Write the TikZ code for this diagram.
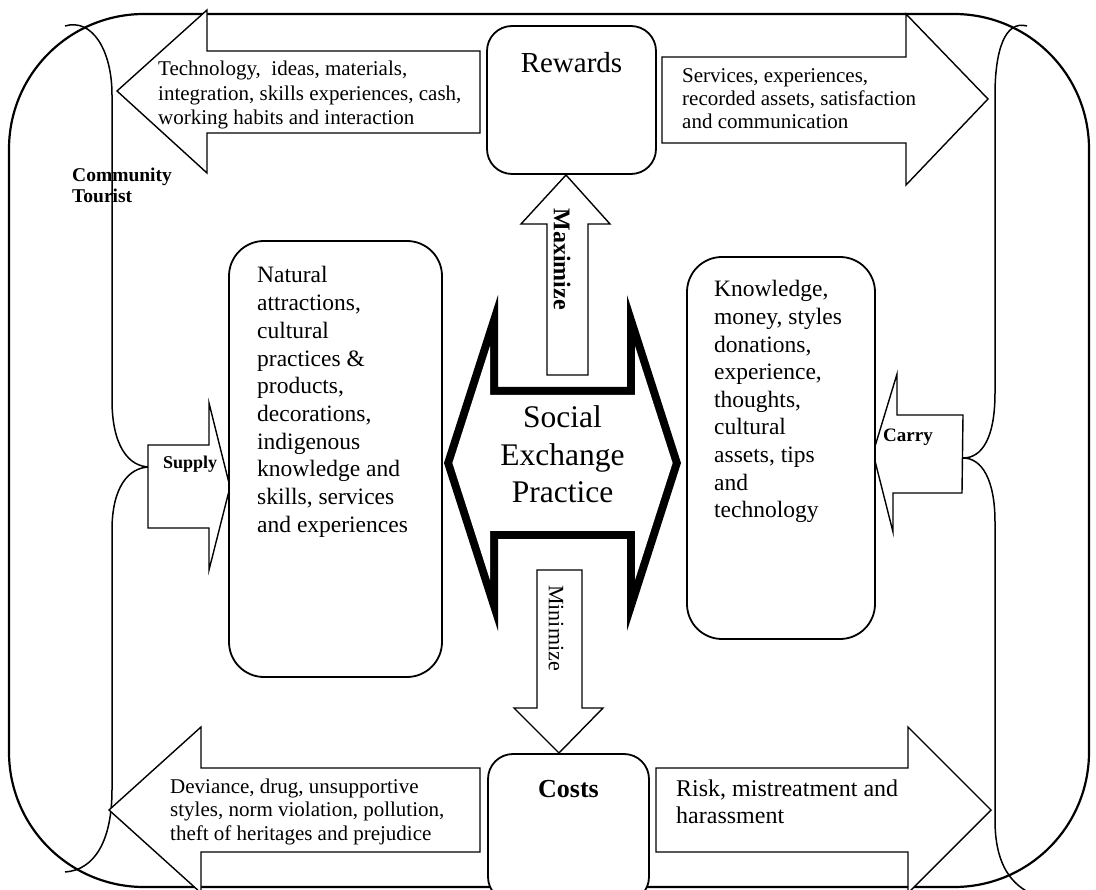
\documentclass[tikz,border=0pt]{standalone}
\usepackage{fontspec}
\setmainfont{Liberation Serif}
\newcommand\mylines[2]{\vtop{\baselineskip=#1pt\lineskiplimit=-100pt\lineskip=0pt\relax #2}}
\newcommand\ctrline[1]{\hbox to 0pt{\hss #1\hss}}
\begin{document}
\begin{tikzpicture}[x=1pt,y=-1pt, line join=miter,
  frame/.style={draw, line width=2.2pt},
  box/.style={draw, line width=1.8pt, rounded corners=#1, fill=white, inner sep=0pt},
  box/.default=25pt,
  blk/.style={draw, line width=1.4pt, fill=white},
  brace/.style={draw, line width=1.5pt},
  txt/.style={inner sep=0pt, anchor=base west}
]
\useasboundingbox (0,0) rectangle (1096,890);
\clip (0,0) rectangle (1096,890);

% outer frame
\draw[frame, rounded corners=135pt] (9,14) rectangle (1089,887);

% braces
\draw[brace] (65,26) .. controls (92,18) and (112,50) .. (112,95) -- (112,400)
  .. controls (112,445) and (128,467) .. (150,467)
  .. controls (128,467) and (112,488) .. (112,530) -- (112,790)
  .. controls (112,840) and (95,870) .. (65,872);
\draw[brace] (1027,26) .. controls (1005,20) and (995,50) .. (995,95) -- (995,393)
  .. controls (995,438) and (982,458) .. (963,458)
  .. controls (982,458) and (995,480) .. (995,522) -- (995,820)
  .. controls (995,860) and (1008,882) .. (1030,893);

% block arrows
\draw[blk] (117,91) -- (207,10) -- (207,51) -- (480,51) -- (480,133) -- (207,133) -- (207,173) -- cycle;
\draw[blk] (662,57) -- (906,57) -- (906,14) -- (988,99) -- (906,185) -- (906,143) -- (662,143) -- cycle;
\draw[blk] (109,810) -- (201,727) -- (201,768) -- (480,768) -- (480,852) -- (201,852) -- (201,893) -- cycle;
\draw[blk] (656,768) -- (908,768) -- (908,727) -- (991,810) -- (908,893) -- (908,852) -- (656,852) -- cycle;
\draw[blk] (148,445) -- (209,445) -- (209,403) -- (230,487) -- (209,570) -- (209,528) -- (148,528) -- cycle;
\draw[blk] (873,453) -- (897,374) -- (897,415) -- (963,415) -- (962,493) -- (893,493) -- (893,532) -- cycle;

% boxes
\node[box, minimum width=169pt, minimum height=148pt] (rewards) at (571.5,100) {};
\node[box, minimum width=161pt, minimum height=148pt] (costs) at (568.5,828) {};
\node[box=35pt, minimum width=213pt, minimum height=436pt] (natural) at (335.5,459) {};
\node[box=35pt, minimum width=188pt, minimum height=382pt] (knowledge) at (781,448) {};

% central thick double arrow
\fill[black] (444,463) -- (498,295) -- (498,387) -- (627,387) -- (627,295) -- (681,463)
  -- (627,631) -- (627,539) -- (498,539) -- (498,631) -- cycle;
\fill[white] (452.4,463) -- (490,346) -- (490,395) -- (635,395) -- (635,346) -- (672.6,463)
  -- (635,580) -- (635,531) -- (490,531) -- (490,580) -- cycle;

% maximize / minimize arrows
\draw[blk] (547,375) -- (547,224) -- (521,224) -- (566,175) -- (610,224) -- (588,224) -- (588,375) -- cycle;
\draw[blk] (537,570) -- (582,570) -- (582,708) -- (603,708) -- (559,753) -- (514,708) -- (537,708) -- cycle;

% texts
\node[txt, font=\fontsize{21pt}{24.5pt}\selectfont] (tltext) at (158,76)
  {\mylines{24.5}{\hbox{Technology,\ \ ideas, materials,}\hbox{integration, skills experiences, cash,}\hbox{working habits and interaction}}};
\node[txt, font=\fontsize{21pt}{23pt}\selectfont] (trtext) at (682,83)
  {\mylines{23}{\hbox{Services, experiences,}\hbox{recorded assets, satisfaction}\hbox{and communication}}};
\node[anchor=base, inner sep=0pt, font=\fontsize{29pt}{34pt}\selectfont] (rewardstxt) at (571.5,73) {Rewards};
\node[txt, font=\bfseries\fontsize{19.5pt}{21pt}\selectfont] (community) at (72,182)
  {\mylines{21}{\hbox{Community}\hbox{Tourist}}};
\node[txt, font=\fontsize{23.5pt}{27.7pt}\selectfont] (naturaltxt) at (257,283)
  {\mylines{27.7}{\hbox{Natural}\hbox{attractions,}\hbox{cultural}\hbox{practices \&}\hbox{products,}\hbox{decorations,}\hbox{indigenous}\hbox{knowledge and}\hbox{skills, services}\hbox{and experiences}}};
\node[txt, font=\bfseries\fontsize{18pt}{21pt}\selectfont] (supply) at (163,469) {Supply};
\node[anchor=base, inner sep=0pt, font=\fontsize{31.5pt}{37.5pt}\selectfont] (sep) at (562.5,428)
  {\mylines{37.5}{\ctrline{Social}\ctrline{Exchange}\ctrline{Practice}}};
\node[txt, font=\fontsize{23.5pt}{27.6pt}\selectfont] (knowtxt) at (714,297)
  {\mylines{27.6}{\hbox{Knowledge,}\hbox{money, styles}\hbox{donations,}\hbox{experience,}\hbox{thoughts,}\hbox{cultural}\hbox{assets, tips}\hbox{and}\hbox{technology}}};
\node[txt, font=\bfseries\fontsize{19pt}{21pt}\selectfont] (carry) at (883,442) {Carry};
\node[rotate=-90, inner sep=0pt, font=\bfseries\fontsize{24pt}{28pt}\selectfont] (maxtxt) at (562,259) {Maximize};
\node[rotate=-90, inner sep=0pt, font=\fontsize{22pt}{26pt}\selectfont] (mintxt) at (556,628) {Minimize};
\node[txt, font=\fontsize{21pt}{23.5pt}\selectfont] (bltext) at (170,793)
  {\mylines{23.5}{\hbox{Deviance, drug, unsupportive}\hbox{styles, norm violation, pollution,}\hbox{theft of heritages and prejudice}}};
\node[anchor=base, inner sep=0pt, font=\bfseries\fontsize{26pt}{30pt}\selectfont] (coststxt) at (568.5,797) {Costs};
\node[txt, font=\fontsize{24pt}{27pt}\selectfont] (brtext) at (676,796)
  {\mylines{27}{\hbox{Risk, mistreatment and}\hbox{harassment}}};
\end{tikzpicture}
\end{document}
